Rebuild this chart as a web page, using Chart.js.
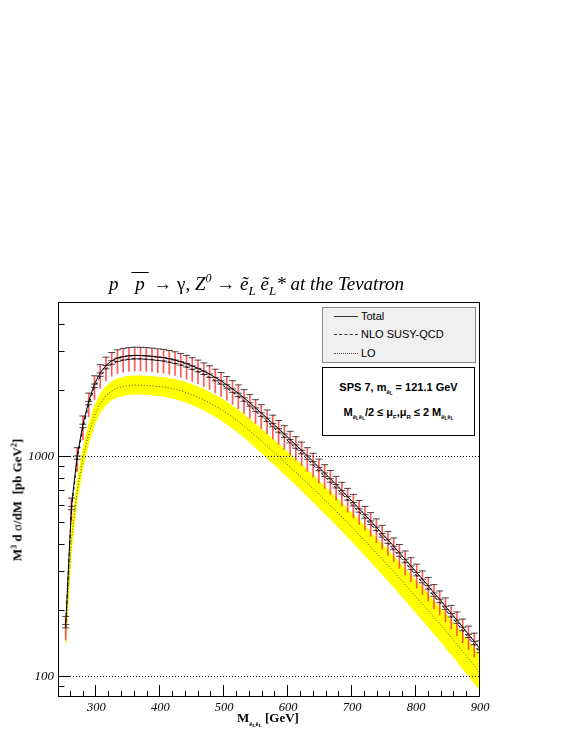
<!DOCTYPE html>
<html><head><meta charset="utf-8">
<script src="https://cdn.jsdelivr.net/npm/chart.js@4.4.0/dist/chart.umd.min.js"></script>
<style>
html,body{margin:0;padding:0;background:#fff;}
#wrap{position:relative;width:581px;height:752px;overflow:hidden;background:#fff;}
canvas{position:absolute;left:0;top:0;}
.t{position:absolute;white-space:nowrap;color:#000;line-height:1;}
.serif{font-family:"Liberation Serif","DejaVu Serif",serif;}
.sans{font-family:"Liberation Sans","DejaVu Sans",sans-serif;}
sub,sup{line-height:0;}
#title sub{font-size:13px;vertical-align:-5px;}
#title sup{font-size:12px;vertical-align:8px;}
.up{font-style:normal;}
#ytitle sup{font-size:8px;vertical-align:5px;}
.ss{font-size:6.5px;vertical-align:-4px;}
.ss sub{font-size:5px;vertical-align:-1px;}
#leg{position:absolute;left:322px;top:307px;width:152px;height:54px;background:#f0f0f0;border:1px solid #888;}
.row{position:absolute;left:11px;height:12px;width:140px;white-space:nowrap;}
.smp{position:absolute;left:0;top:6px;width:24px;height:0;}
.lab{position:absolute;left:27px;top:0;font-size:11px;white-space:nowrap;}
#box{position:absolute;left:322px;top:367px;width:151px;height:67px;background:#fff;border:1px solid #000;}
.bl{position:absolute;left:0;width:151px;text-align:center;font-weight:bold;font-size:11px;white-space:nowrap;}
.bl sub{font-size:6px;vertical-align:-3px;}
.bl sub sub{font-size:4.5px;vertical-align:-1px;}
</style></head><body>
<div id="wrap">
<canvas id="c" width="581" height="752"></canvas>
<div class="t serif" id="title" style="left:109px;top:274px;font-size:19px;font-style:italic;">p<span style="display:inline-block;width:13px"></span><span style="text-decoration:overline;">&thinsp;p&thinsp;</span> <span class="up">→ γ,</span> Z<sup>0</sup> <span class="up">→</span> ẽ<sub>L</sub> ẽ<sub>L</sub>* at the Tevatron</div>
<div class="t serif" id="ytitle" style="left:17px;top:500px;transform:translate(-50%,-50%) rotate(-90deg);font-size:13px;font-weight:bold;">M<sup>3</sup> d <span style="font-weight:normal">σ</span>/dM&nbsp; [pb GeV<sup>2</sup>]</div>
<div class="t serif" id="xtitle" style="left:237px;top:711px;font-size:13px;font-weight:bold;">M<span class="ss">ẽ<sub>L</sub>ẽ<sub>L</sub></span> [GeV]</div>
<div id="leg" class="sans">
  <div class="row" style="top:2px;"><div class="smp" style="border-top:1px solid #333;"></div><div class="lab">Total</div></div>
  <div class="row" style="top:20px;"><div class="smp" style="border-top:1px dashed #333;"></div><div class="lab">NLO SUSY-QCD</div></div>
  <div class="row" style="top:39px;"><div class="smp" style="border-top:1px dotted #555;"></div><div class="lab">LO</div></div>
</div>
<div id="box" class="sans">
  <div class="bl" style="top:13px;">SPS 7, m<sub>ẽ<sub>L</sub></sub> = 121.1 GeV</div>
  <div class="bl" style="top:38px;">M<sub>ẽ<sub>L</sub>ẽ<sub>L</sub></sub>/2 ≤ μ<sub>F</sub>,μ<sub>R</sub> ≤ 2 M<sub>ẽ<sub>L</sub>ẽ<sub>L</sub></sub></div>
</div>
</div>
<script>
// ---- data ----
const massGeV = [252,261,270,279,288,297,306,315,324,333,342,351,360,369,378,387,396,405,414,423,432,441,450,459,468,477,486,495,504,513,522,531,540,549,558,567,576,585,594,603,612,621,630,639,648,657,666,675,684,693,702,711,720,729,738,747,756,765,774,783,792,801,810,819,828,837,846,855,864,873,882,891,900];
const totalXsec = [172,592,1003,1397,1775,2128,2390,2585,2715,2793,2834,2858,2870,2868,2859,2843,2822,2806,2773,2736,2688,2635,2572,2507,2436,2363,2280,2201,2112,2022,1934,1841,1749,1657,1573,1488,1409,1333,1262,1191,1126,1063,1003,946,890,839,790,743,698,655,616,577,542,508,476,445,417,390,364,340,317,296,276,258,239,224,208,193,180,167,155,144,133];
const totalHigh = [187,645,1093,1523,1935,2320,2605,2818,2959,3044,3089,3115,3128,3126,3116,3099,3076,3059,3023,2982,2930,2872,2803,2733,2655,2576,2485,2399,2302,2204,2108,2007,1906,1806,1715,1622,1536,1453,1376,1298,1227,1159,1093,1031,970,915,861,810,761,714,671,629,591,554,519,485,455,425,397,371,346,323,301,281,261,244,227,210,196,182,169,157,145];
const totalLow = [146,503,853,1187,1509,1809,2032,2197,2308,2374,2409,2429,2440,2438,2430,2417,2399,2385,2357,2326,2285,2240,2186,2131,2071,2009,1938,1871,1795,1719,1644,1565,1487,1408,1337,1265,1198,1133,1073,1012,957,904,853,804,757,713,672,632,593,557,524,490,461,432,405,378,354,332,309,289,269,252,235,219,203,190,177,164,153,142,132,122,113];
const nloXsec = [166,571,968,1348,1713,2054,2306,2495,2620,2695,2735,2758,2770,2768,2759,2743,2723,2708,2676,2640,2594,2543,2482,2419,2351,2280,2200,2124,2038,1951,1866,1777,1688,1599,1518,1436,1360,1286,1218,1149,1087,1026,968,913,859,810,762,717,674,632,594,557,523,490,459,429,402,376,351,328,306,286,266,249,231,216,201,186,174,161,150,139,128];
const loXsec = [155,417,692,977,1259,1531,1738,1884,1982,2042,2075,2094,2104,2104,2099,2089,2075,2065,2042,2016,1982,1945,1901,1854,1803,1750,1690,1633,1568,1503,1439,1371,1303,1236,1174,1112,1054,998,945,893,845,799,754,712,671,633,597,562,529,497,468,439,413,387,363,340,319,299,279,261,244,228,213,199,185,173,161,150,139.5,129.7,120.5,112,104];
const loHigh = [171,459,761,1075,1385,1684,1912,2072,2180,2246,2283,2303,2314,2314,2309,2298,2283,2275,2254,2228,2194,2157,2112,2063,2009,1953,1889,1829,1759,1688,1619,1545,1471,1397,1329,1261,1197,1136,1077,1019,966,915,865,818,772,729,689,650,612,576,543,511,481,451,424,398,374,351,328,307,288,269,252,236,219,206,192,179,167,155,144,134,125];
const loLow = [141,379,630,889,1146,1393,1582,1714,1804,1858,1888,1906,1915,1915,1910,1901,1888,1876,1852,1826,1793,1756,1714,1669,1621,1570,1514,1461,1401,1340,1281,1219,1157,1095,1039,982,930,879,831,784,741,699,659,621,584,550,518,487,458,429,404,378,355,332,311,291,272,255,237,222,207,193,180,168,156,146,135,126,117,108,100.5,93.3,86.5];
const xTickLabels = ['300','400','500','600','700','800','900'];
const xMinorTicks = [260,280,320,340,360,380,420,440,460,480,520,540,560,580,620,640,660,680,720,740,760,780,820,840,860,880];
const yTickLabels = ['100','1000'];
const yMinorTicks = [90,200,300,400,500,600,700,800,900,2000,3000,4000,5000];

const pts = ys => massGeV.map((x, i) => ({x: x, y: ys[i]}));

const rootAxes = {
  id: 'rootAxes',
  afterDatasetsDraw(chart) {
    const {ctx, chartArea: a, scales: {x, y}} = chart;
    ctx.save();
    ctx.strokeStyle = '#000';
    ctx.lineWidth = 1;
    ctx.setLineDash([1, 2]);
    yTickLabels.forEach(l => {
      const py = Math.round(y.getPixelForValue(Number(l))) + 0.5;
      ctx.beginPath(); ctx.moveTo(a.left, py); ctx.lineTo(a.right, py); ctx.stroke();
    });
    ctx.setLineDash([]);
    ctx.strokeRect(a.left + 0.5, a.top + 0.5, a.right - a.left - 1, a.bottom - a.top - 1);
    ctx.beginPath();
    yTickLabels.forEach(l => {
      const py = Math.round(y.getPixelForValue(Number(l))) + 0.5;
      ctx.moveTo(a.left, py); ctx.lineTo(a.left + 12, py);
    });
    yMinorTicks.forEach(v => {
      const py = Math.round(y.getPixelForValue(v)) + 0.5;
      ctx.moveTo(a.left, py); ctx.lineTo(a.left + 6.5, py);
    });
    xTickLabels.forEach(l => {
      const px = Math.round(x.getPixelForValue(Number(l))) - 0.5;
      ctx.moveTo(px, a.bottom); ctx.lineTo(px, a.bottom - 12);
    });
    xMinorTicks.forEach(v => {
      const px = Math.round(x.getPixelForValue(v)) - 0.5;
      ctx.moveTo(px, a.bottom); ctx.lineTo(px, a.bottom - 6);
    });
    ctx.stroke();
    ctx.fillStyle = '#000';
    ctx.font = 'italic 13px "Liberation Serif"';
    ctx.textAlign = 'right'; ctx.textBaseline = 'middle';
    yTickLabels.forEach(l => ctx.fillText(l, a.left - 4, y.getPixelForValue(Number(l))));
    ctx.font = 'italic 12.5px "Liberation Serif"';
    ctx.textAlign = 'center'; ctx.textBaseline = 'top';
    xTickLabels.forEach(l => ctx.fillText(l, x.getPixelForValue(Number(l)), a.bottom + 4));
    ctx.restore();
  }
};

const capStyle = {type: 'line', showLine: false, pointStyle: 'line', pointRadius: 3.5, pointHoverRadius: 3.5,
  pointBorderColor: 'rgba(30,30,30,0.8)', pointBorderWidth: 1, borderColor: 'rgba(0,0,0,0)'};

new Chart(document.getElementById('c'), {
  type: 'line',
  data: {
    datasets: [
      {label: 'Total', data: pts(totalXsec), borderColor: '#000', borderWidth: 1, pointRadius: 0, fill: false, order: 0},
      {label: 'NLO SUSY-QCD', data: pts(nloXsec), borderColor: '#000', borderWidth: 1, borderDash: [3, 3], pointRadius: 0, fill: false, order: 1},
      Object.assign({label: 'cap high', data: pts(totalHigh), order: 2}, capStyle),
      Object.assign({label: 'cap total', data: pts(totalXsec), order: 2}, capStyle),
      Object.assign({label: 'cap nlo', data: pts(nloXsec), order: 2}, capStyle),
      {label: 'Total band', type: 'bar', data: massGeV.map((x, i) => ({x: x, y: [totalLow[i], totalHigh[i]]})),
        backgroundColor: 'rgba(255,60,60,0.85)', borderWidth: 0, barThickness: 1, order: 5},
      {label: 'LO', data: pts(loXsec), borderColor: 'rgba(60,60,0,0.9)', borderWidth: 1, borderDash: [1, 2], pointRadius: 0, fill: false, order: 6},
      {label: 'LO high', data: pts(loHigh), borderColor: '#ffff00', borderWidth: 1, pointRadius: 0, fill: false, order: 10},
      {label: 'LO low', data: pts(loLow), borderColor: '#ffff00', borderWidth: 1, pointRadius: 0, fill: '-1', backgroundColor: '#ffff00', order: 9}
    ]
  },
  options: {
    responsive: false, animation: false, devicePixelRatio: 1,
    layout: {padding: {left: 58, right: 101, top: 302, bottom: 55}},
    plugins: {legend: {display: false}, tooltip: {enabled: false}, title: {display: false}},
    events: [],
    scales: {
      x: {type: 'linear', min: 240, max: 900, offset: false, display: false},
      y: {type: 'logarithmic', min: 80.5, max: 5020, display: false}
    }
  },
  plugins: [rootAxes]
});
</script>
</body></html>
